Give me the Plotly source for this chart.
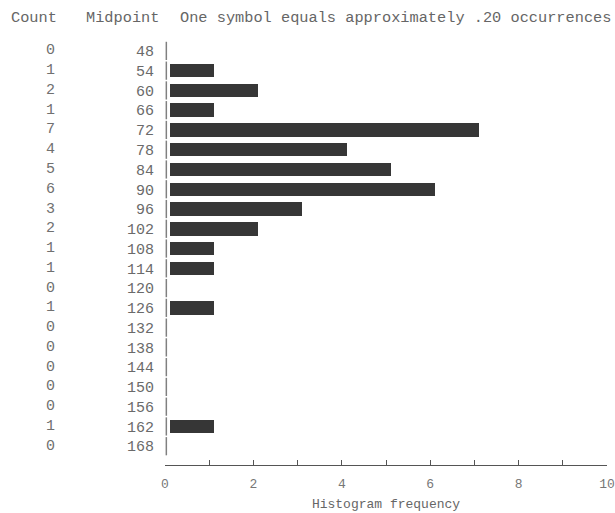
import plotly.graph_objects as go

midpoints = [48, 54, 60, 66, 72, 78, 84, 90, 96, 102, 108, 114, 120, 126, 132, 138, 144, 150, 156, 162, 168]
counts = [0, 1, 2, 1, 7, 4, 5, 6, 3, 2, 1, 1, 0, 1, 0, 0, 0, 0, 0, 1, 0]
x_ticks = list(range(0, 11))
x_ticktext = [str(v) if v % 2 == 0 else "" for v in x_ticks]
header = ["Count", "Midpoint", "One symbol equals approximately .20 occurrences"]
x_title = "Histogram frequency"

FONT = "Liberation Mono, Courier New, monospace"
rows = list(range(len(midpoints)))

fig = go.Figure()
fig.add_trace(go.Bar(
    x=counts, y=rows, base=0.11, orientation="h", width=0.68,
    marker=dict(color="#363636", line=dict(width=0)),
    hoverinfo="skip", showlegend=False,
))
fig.add_trace(go.Scatter(
    x=[0.03] * len(rows), y=rows, mode="markers",
    marker=dict(symbol="line-ns", size=13, line=dict(width=1.5, color="#808080")),
    hoverinfo="skip", showlegend=False,
))

annotations = []
for i, c in zip(rows, counts):
    annotations.append(dict(x=-0.26, xref="paper", y=i, yref="y", text=str(c),
                            showarrow=False, xanchor="center",
                            font=dict(family=FONT, size=15, color="#707070")))
header_x = [-0.352, -0.183, 0.029]
for hx, ht in zip(header_x, header):
    annotations.append(dict(x=hx, xref="paper", y=1.054, yref="paper", text=ht,
                            showarrow=False, xanchor="left", yanchor="middle",
                            font=dict(family=FONT, size=15.3, color="#666666")))

fig.update_layout(
    width=615, height=513,
    margin=dict(l=165, r=8, t=41, b=48),
    paper_bgcolor="white", plot_bgcolor="white",
    font=dict(family=FONT, size=15, color="#6a6a6a"),
    annotations=annotations,
    bargap=0,
)
fig.update_xaxes(
    range=[0, 10], tickvals=x_ticks, ticktext=x_ticktext, automargin=False,
    showgrid=False, zeroline=False, showline=True, linecolor="#555555", linewidth=1,
    ticks="inside", ticklen=5, tickcolor="#555555", tickwidth=1,
    tickfont=dict(family=FONT, size=13, color="#777777"),
    ticklabelstandoff=6,
    title=dict(text=x_title, font=dict(family=FONT, size=13, color="#666666"), standoff=8),
)
fig.update_yaxes(
    range=[20.95, -0.5], tickvals=rows, ticktext=[str(m) for m in midpoints], automargin=False,
    showgrid=False, zeroline=False, showline=False, ticks="",
    tickfont=dict(family=FONT, size=15, color="#6a6a6a"),
    ticklabelstandoff=10,
)

post = ("document.body.style.margin='0px';"
        "document.body.style.overflow='hidden';"
        "var gd=document.getElementById('{plot_id}');"
        "Plotly.relayout(gd,{width:615,height:513});")
fig.write_html("out.html", config={"responsive": False, "displayModeBar": False}, post_script=post)
